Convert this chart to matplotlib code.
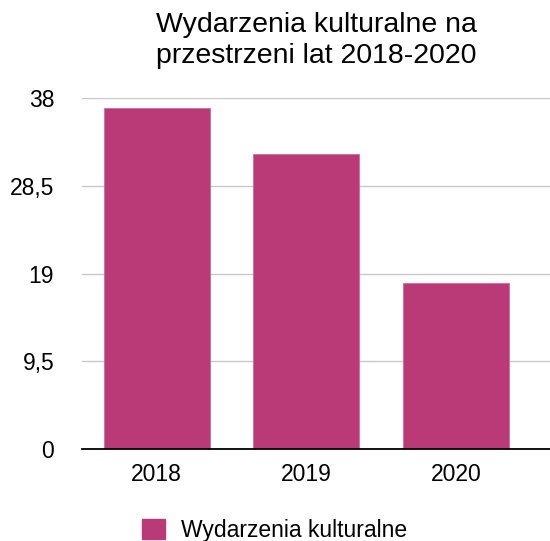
import matplotlib
matplotlib.use("Agg")
import matplotlib.pyplot as plt
from matplotlib.patches import Patch

plt.rcParams['font.family'] = ['Liberation Sans', 'DejaVu Sans']

years = ['2018', '2019', '2020']
events = [37, 32, 18]
yticks = [0, 9.5, 19, 28.5, 38]
ytick_labels = ['0', '9,5', '19', '28,5', '38']
series_name = 'Wydarzenia kulturalne'
title = 'Wydarzenia kulturalne na\nprzestrzeni lat 2018-2020'
bar_color = '#BA3A78'

fig = plt.figure(figsize=(5.5, 5.41), dpi=100)
ax = fig.add_axes([0.149, 0.170, 0.851, 0.648])

x = range(len(years))
ax.bar(x, events, width=0.71, color=bar_color, edgecolor='#D06A9A', linewidth=0.6, zorder=3)

ax.set_xlim(-0.5, 2.63)
ax.set_ylim(0, 38)
ax.set_yticks(yticks)
ax.set_yticklabels(ytick_labels)
ax.set_xticks(list(x))
ax.set_xticklabels(years)
# pad is in points (1pt = 1.39px here)
ax.tick_params(axis='y', length=0, pad=20, labelsize=16.5)
ax.tick_params(axis='x', length=0, pad=10, labelsize=16.5)

ax.grid(axis='y', color='#c8c8c8', linewidth=1, zorder=0)
ax.set_axisbelow(True)
for s in ['top', 'right', 'left']:
    ax.spines[s].set_visible(False)
ax.spines['bottom'].set_color('black')
ax.spines['bottom'].set_linewidth(1.3)
ax.spines['bottom'].set_zorder(4)

fig.text(0.575, 0.978, title, ha='center', va='top', fontsize=20.5, linespacing=1.25)

fig.legend(handles=[Patch(color=bar_color, label=series_name)],
           loc='center', bbox_to_anchor=(0.5, 0.02), frameon=False,
           fontsize=16.5, handlelength=1.0, handleheight=1.0, handletextpad=0.7)

fig.savefig('out.png', dpi=100)
